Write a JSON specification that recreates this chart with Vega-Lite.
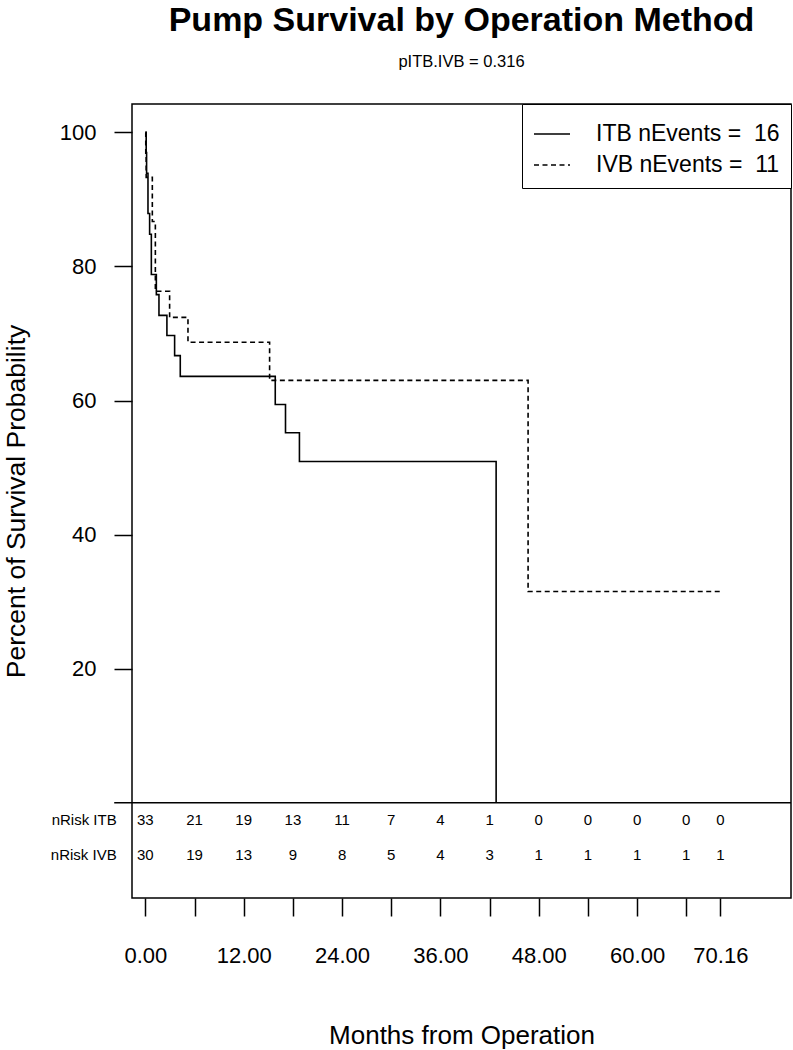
{
  "$schema": "https://vega.github.io/schema/vega-lite/v6.json",
  "autosize": "none",
  "width": 659,
  "height": 794,
  "padding": {"left": 132, "top": 104, "right": 2, "bottom": 152},
  "background": "white",
  "config": {
    "font": "Liberation Sans",
    "view": {"stroke": "black", "strokeWidth": 1.5},
    "axis": {"grid": false, "domain": false, "tickColor": "black", "tickWidth": 1.5, "tickSize": 18, "labelColor": "black", "titleColor": "black", "titleFontWeight": "normal"}
  },
  "title": {
    "text": "Pump Survival by Operation Method",
    "subtitle": "pITB.IVB = 0.316",
    "fontSize": 34,
    "fontWeight": "bold",
    "color": "black",
    "subtitleFontSize": 16.5,
    "subtitleColor": "black",
    "subtitlePadding": 16,
    "offset": 33,
    "anchor": "middle"
  },
  "datasets": {
    "curve": [
      {"group": "ITB", "t": 0, "s": 100},
      {"group": "ITB", "t": 0.1, "s": 97.0},
      {"group": "ITB", "t": 0.15, "s": 93.9},
      {"group": "ITB", "t": 0.32, "s": 87.9},
      {"group": "ITB", "t": 0.52, "s": 84.8},
      {"group": "ITB", "t": 0.73, "s": 78.8},
      {"group": "ITB", "t": 1.34, "s": 75.8},
      {"group": "ITB", "t": 1.66, "s": 72.7},
      {"group": "ITB", "t": 2.63, "s": 69.7},
      {"group": "ITB", "t": 3.57, "s": 66.7},
      {"group": "ITB", "t": 4.26, "s": 63.6},
      {"group": "ITB", "t": 15.85, "s": 59.4},
      {"group": "ITB", "t": 17.1, "s": 55.2},
      {"group": "ITB", "t": 18.8, "s": 50.9},
      {"group": "ITB", "t": 42.8, "s": 0},
      {"group": "IVB", "t": 0, "s": 100},
      {"group": "IVB", "t": 0.05, "s": 96.7},
      {"group": "IVB", "t": 0.1, "s": 93.3},
      {"group": "IVB", "t": 0.85, "s": 86.7},
      {"group": "IVB", "t": 1.22, "s": 76.3},
      {"group": "IVB", "t": 2.96, "s": 72.4},
      {"group": "IVB", "t": 5.2, "s": 68.7},
      {"group": "IVB", "t": 15.16, "s": 63.0},
      {"group": "IVB", "t": 46.7, "s": 31.5},
      {"group": "IVB", "t": 70.16, "s": 31.5}
    ],
    "risk": [
      {"group": "ITB", "t": 0, "n": 33},
      {"group": "ITB", "t": 6, "n": 21},
      {"group": "ITB", "t": 12, "n": 19},
      {"group": "ITB", "t": 18, "n": 13},
      {"group": "ITB", "t": 24, "n": 11},
      {"group": "ITB", "t": 30, "n": 7},
      {"group": "ITB", "t": 36, "n": 4},
      {"group": "ITB", "t": 42, "n": 1},
      {"group": "ITB", "t": 48, "n": 0},
      {"group": "ITB", "t": 54, "n": 0},
      {"group": "ITB", "t": 60, "n": 0},
      {"group": "ITB", "t": 66, "n": 0},
      {"group": "ITB", "t": 70.16, "n": 0},
      {"group": "IVB", "t": 0, "n": 30},
      {"group": "IVB", "t": 6, "n": 19},
      {"group": "IVB", "t": 12, "n": 13},
      {"group": "IVB", "t": 18, "n": 9},
      {"group": "IVB", "t": 24, "n": 8},
      {"group": "IVB", "t": 30, "n": 5},
      {"group": "IVB", "t": 36, "n": 4},
      {"group": "IVB", "t": 42, "n": 3},
      {"group": "IVB", "t": 48, "n": 1},
      {"group": "IVB", "t": 54, "n": 1},
      {"group": "IVB", "t": 60, "n": 1},
      {"group": "IVB", "t": 66, "n": 1},
      {"group": "IVB", "t": 70.16, "n": 1}
    ],
    "rowlabels": [
      {"group": "ITB", "label": "nRisk ITB"},
      {"group": "IVB", "label": "nRisk IVB"}
    ]
  },
  "layer": [
    {
      "data": {"name": "curve"},
      "mark": {"type": "line", "interpolate": "step-after", "color": "black", "strokeWidth": 1.6},
      "encoding": {
        "x": {
          "field": "t", "type": "quantitative",
          "scale": {"domain": [-1.63, 78.78], "nice": false, "zero": false},
          "axis": {
            "values": [0, 6, 12, 18, 24, 30, 36, 42, 48, 54, 60, 66, 70.16],
            "labelExpr": "(datum.value % 12 == 0 || datum.value > 70) ? format(datum.value, '.2f') : ''",
            "labelOverlap": false,
            "labelFlush": false,
            "labelFontSize": 22,
            "labelPadding": 29,
            "title": "Months from Operation",
            "titleFontSize": 26,
            "titleY": 137,
            "titleBaseline": "middle"
          }
        },
        "y": {
          "field": "s", "type": "quantitative",
          "scale": {"domain": [-14.22, 104.24], "nice": false, "zero": false},
          "axis": {
            "values": [20, 40, 60, 80, 100],
            "labelFontSize": 22,
            "labelPadding": 18,
            "title": "Percent of Survival Probability",
            "titleFontSize": 26.5,
            "titleX": -116,
            "titleBaseline": "middle"
          }
        },
        "strokeDash": {
          "field": "group", "type": "nominal",
          "scale": {"domain": ["ITB", "IVB"], "range": [[1, 0], [5, 3.5]]},
          "legend": {
            "title": null,
            "orient": "top-right",
            "offset": 0,
            "strokeColor": "black",
            "fillColor": "white",
            "padding": 11,
            "rowPadding": -11,
            "symbolType": "stroke",
            "symbolSize": 1296,
            "symbolStrokeWidth": 1.5,
            "symbolStrokeColor": "black",
            "labelFontSize": 23,
            "labelColor": "black",
            "labelOffset": 25,
            "labelLimit": 400,
            "labelExpr": "datum.label == 'ITB' ? 'ITB nEvents =\u00a0 16' : 'IVB nEvents =\u00a0 11'"
          }
        }
      }
    },
    {
      "data": {"values": [{}]},
      "mark": {"type": "rule", "color": "black", "strokeWidth": 1.5},
      "encoding": {
        "x": {"datum": -3.8},
        "x2": {"datum": 78.78},
        "y": {"datum": 0}
      }
    },
    {
      "data": {"name": "risk"},
      "transform": [{"filter": "datum.group == 'ITB'"}],
      "mark": {"type": "text", "fontSize": 15, "color": "black", "align": "center", "baseline": "middle"},
      "encoding": {
        "x": {"field": "t", "type": "quantitative"},
        "y": {"datum": -2.6},
        "text": {"field": "n", "type": "quantitative"}
      }
    },
    {
      "data": {"name": "risk"},
      "transform": [{"filter": "datum.group == 'IVB'"}],
      "mark": {"type": "text", "fontSize": 15, "color": "black", "align": "center", "baseline": "middle"},
      "encoding": {
        "x": {"field": "t", "type": "quantitative"},
        "y": {"datum": -7.8},
        "text": {"field": "n", "type": "quantitative"}
      }
    },
    {
      "data": {"name": "rowlabels"},
      "transform": [{"filter": "datum.group == 'ITB'"}],
      "mark": {"type": "text", "fontSize": 15, "color": "black", "align": "right", "baseline": "middle"},
      "encoding": {
        "x": {"datum": -3.5},
        "y": {"datum": -2.6},
        "text": {"field": "label", "type": "nominal"}
      }
    },
    {
      "data": {"name": "rowlabels"},
      "transform": [{"filter": "datum.group == 'IVB'"}],
      "mark": {"type": "text", "fontSize": 15, "color": "black", "align": "right", "baseline": "middle"},
      "encoding": {
        "x": {"datum": -3.5},
        "y": {"datum": -7.8},
        "text": {"field": "label", "type": "nominal"}
      }
    }
  ]
}
